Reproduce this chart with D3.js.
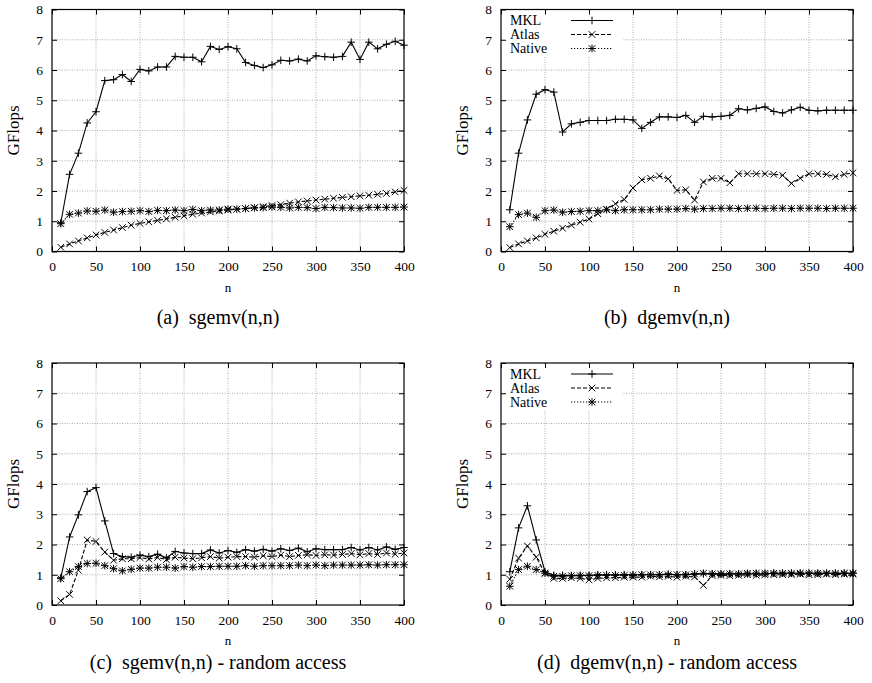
<!DOCTYPE html>
<html>
<head>
<meta charset="utf-8">
<script src="https://cdn.jsdelivr.net/npm/d3@7"></script>
<style>
  body { margin: 0; background: #fff; }
  svg text { font-family: "Liberation Serif", "Times New Roman", serif; fill: #000; }
</style>
</head>
<body>
<svg id="chart" width="872" height="683"></svg>
<script>
// problem sizes
var nValues = d3.range(10, 401, 10);
var xTicks = [0, 50, 100, 150, 200, 250, 300, 350, 400];
var yTicks = [0, 1, 2, 3, 4, 5, 6, 7, 8];
var seriesNames = ["MKL", "Atlas", "Native"];

// (a) sgemv(n,n)
var sgemvMKL = [0.95,2.55,3.25,4.25,4.62,5.65,5.68,5.85,5.62,6.02, 5.97,6.1,6.1,6.45,6.42,6.42,6.27,6.78,6.68,6.77, 6.7,6.25,6.15,6.08,6.17,6.32,6.3,6.36,6.3,6.47, 6.44,6.42,6.45,6.92,6.35,6.92,6.7,6.85,6.95,6.82];
var sgemvAtlas = [0.14,0.25,0.35,0.45,0.55,0.63,0.71,0.79,0.87,0.93, 0.98,1.03,1.08,1.13,1.18,1.23,1.27,1.31,1.34,1.37, 1.4,1.42,1.45,1.48,1.52,1.55,1.6,1.64,1.67,1.7, 1.73,1.76,1.79,1.81,1.84,1.86,1.89,1.92,1.97,2.02];
var sgemvNative = [0.92,1.23,1.27,1.34,1.33,1.37,1.3,1.32,1.33,1.35, 1.32,1.36,1.35,1.37,1.35,1.39,1.35,1.37,1.37,1.4, 1.4,1.42,1.44,1.45,1.47,1.46,1.44,1.46,1.45,1.42, 1.46,1.45,1.44,1.44,1.43,1.46,1.46,1.46,1.46,1.47];

// (b) dgemv(n,n)
var dgemvMKL = [1.38,3.25,4.35,5.2,5.35,5.27,3.95,4.22,4.27,4.33, 4.33,4.33,4.37,4.37,4.35,4.07,4.27,4.45,4.45,4.43, 4.5,4.27,4.47,4.45,4.47,4.5,4.72,4.68,4.73,4.78, 4.63,4.58,4.68,4.77,4.67,4.65,4.67,4.67,4.67,4.67];
var dgemvAtlas = [0.13,0.25,0.35,0.45,0.57,0.67,0.77,0.87,0.97,1.07, 1.25,1.4,1.58,1.72,2.1,2.37,2.42,2.5,2.4,2.02, 2.04,1.7,2.3,2.42,2.42,2.27,2.57,2.57,2.57,2.57, 2.55,2.52,2.25,2.42,2.57,2.57,2.55,2.47,2.55,2.6];
var dgemvNative = [0.82,1.22,1.27,1.13,1.35,1.37,1.3,1.32,1.33,1.35, 1.35,1.38,1.35,1.38,1.38,1.38,1.38,1.4,1.4,1.4, 1.42,1.4,1.42,1.42,1.43,1.43,1.42,1.43,1.43,1.42, 1.43,1.43,1.42,1.43,1.43,1.43,1.42,1.43,1.43,1.43];

// (c) sgemv(n,n) - random access
var sgemvRandMKL = [0.9,2.25,2.98,3.75,3.88,2.78,1.7,1.6,1.58,1.65, 1.6,1.68,1.56,1.77,1.72,1.7,1.7,1.82,1.72,1.8, 1.74,1.83,1.78,1.84,1.78,1.86,1.8,1.88,1.76,1.86, 1.83,1.83,1.83,1.9,1.82,1.9,1.82,1.92,1.84,1.9];
var sgemvRandAtlas = [0.14,0.35,1.15,2.15,2.1,1.75,1.48,1.53,1.53,1.57, 1.52,1.57,1.5,1.58,1.55,1.53,1.56,1.6,1.55,1.58, 1.6,1.6,1.58,1.63,1.6,1.65,1.6,1.64,1.66,1.64, 1.66,1.65,1.67,1.7,1.66,1.7,1.67,1.72,1.68,1.72];
var sgemvRandNative = [0.87,1.1,1.27,1.37,1.38,1.3,1.2,1.13,1.18,1.22, 1.22,1.25,1.25,1.22,1.27,1.25,1.27,1.27,1.28,1.28, 1.28,1.3,1.28,1.3,1.3,1.3,1.3,1.32,1.3,1.32, 1.3,1.32,1.32,1.32,1.32,1.33,1.32,1.33,1.33,1.33];

// (d) dgemv(n,n) - random access
var dgemvRandMKL = [1.1,2.55,3.28,2.15,1.1,0.98,0.98,0.97,0.98,0.98, 1.0,1.0,1.0,1.0,1.0,1.0,1.0,1.0,1.02,1.0, 1.0,1.03,1.03,1.03,1.02,1.03,1.03,1.03,1.03,1.03, 1.05,1.05,1.05,1.05,1.05,1.05,1.05,1.05,1.05,1.05];
var dgemvRandAtlas = [0.85,1.55,1.95,1.58,1.05,0.88,0.88,0.9,0.88,0.83, 0.88,0.9,0.9,0.92,0.92,0.92,0.95,0.93,0.95,0.92, 0.95,0.93,0.65,0.97,0.98,0.97,0.98,1.0,0.98,1.0, 1.0,1.0,1.0,1.02,1.0,1.0,1.02,1.0,1.02,1.02];
var dgemvRandNative = [0.62,1.17,1.28,1.17,1.05,0.95,0.95,0.97,0.97,0.97, 0.98,0.98,0.98,0.98,0.98,1.0,1.0,1.0,1.0,1.0, 1.0,1.02,1.05,1.03,1.03,1.03,1.03,1.05,1.05,1.05, 1.05,1.05,1.05,1.05,1.05,1.05,1.05,1.05,1.05,1.05];

var panels = [
  {caption: "(a)\u00a0 sgemv(n,n)", left: 52, top: 9.5, capDy: 72, series: [sgemvMKL, sgemvAtlas, sgemvNative], legend: false},
  {caption: "(b)\u00a0 dgemv(n,n)", left: 501, top: 9.5, capDy: 72, series: [dgemvMKL, dgemvAtlas, dgemvNative], legend: true},
  {caption: "(c)\u00a0 sgemv(n,n) - random access", left: 52, top: 363, capDy: 64, series: [sgemvRandMKL, sgemvRandAtlas, sgemvRandNative], legend: false},
  {caption: "(d)\u00a0 dgemv(n,n) - random access", left: 501, top: 363, capDy: 64, series: [dgemvRandMKL, dgemvRandAtlas, dgemvRandNative], legend: true}
];

var plotW = 352, plotH = 242;
var serif = "Liberation Serif";
var dashes = [null, "4,2", "1.2,1.8"];   // MKL solid, Atlas dashed, Native dotted

var svg = d3.select("#chart");

// gnuplot-ish point types: plus, cross, star
function drawMarker(g, type, x, y){
  var s = 3.8, c = 3.3;
  var d = "";
  if (type == 0 || type == 2) d += "M" + (x-s) + "," + y + "H" + (x+s) + "M" + x + "," + (y-s) + "V" + (y+s);
  if (type == 1 || type == 2) d += "M" + (x-c) + "," + (y-c) + "L" + (x+c) + "," + (y+c) + "M" + (x-c) + "," + (y+c) + "L" + (x+c) + "," + (y-c);
  g.append("path").attr("d", d).attr("stroke", "#000").attr("stroke-width", 1).attr("fill", "none");
}

panels.forEach(function(p){
  var g = svg.append("g").attr("transform", "translate(" + p.left + "," + p.top + ")");
  var x = d3.scaleLinear().domain([0, 400]).range([0, plotW]);
  var y = d3.scaleLinear().domain([0, 8]).range([plotH, 0]);

  // grid
  g.append("g").selectAll("line").data(xTicks.slice(1, -1)).join("line")
    .attr("x1", d => x(d)).attr("x2", d => x(d)).attr("y1", 0).attr("y2", plotH)
    .attr("stroke", "#999").attr("stroke-width", 0.8).attr("stroke-dasharray", "1,1.5");
  g.append("g").selectAll("line").data(yTicks.slice(1, -1)).join("line")
    .attr("x1", 0).attr("x2", plotW).attr("y1", d => y(d)).attr("y2", d => y(d))
    .attr("stroke", "#999").attr("stroke-width", 0.8).attr("stroke-dasharray", "1,1.5");

  // legend background hides the grid
  if (p.legend) {
    g.append("rect").attr("x", 1).attr("y", 1).attr("width", 120).attr("height", 46).attr("fill", "#fff");
  }

  // axes, ticks inward and mirrored
  var xAxis = g.append("g").attr("transform", "translate(0," + plotH + ")")
    .call(d3.axisBottom(x).tickValues(xTicks).tickSize(-5).tickPadding(10).tickFormat(d3.format("d")));
  var xTop = g.append("g").call(d3.axisTop(x).tickValues(xTicks).tickSize(-5).tickFormat(""));
  var yAxis = g.append("g").call(d3.axisLeft(y).tickValues(yTicks).tickSize(-5).tickPadding(9).tickFormat(d3.format("d")));
  var yRight = g.append("g").attr("transform", "translate(" + plotW + ",0)")
    .call(d3.axisRight(y).tickValues(yTicks).tickSize(-5).tickFormat(""));
  [xAxis, xTop, yAxis, yRight].forEach(function(a){
    a.attr("font-family", serif);
    a.select(".domain").remove();
    a.selectAll("line").attr("stroke", "#000");
    a.selectAll("text").attr("font-size", 13.5);
  });
  g.append("rect").attr("width", plotW).attr("height", plotH)
    .attr("fill", "none").attr("stroke", "#000").attr("stroke-width", 1.2);

  // series
  var line = d3.line().x((d, i) => x(nValues[i])).y(d => y(d));
  p.series.forEach(function(vals, k){
    g.append("path").datum(vals).attr("d", line)
      .attr("fill", "none").attr("stroke", "#000").attr("stroke-width", 1.1)
      .attr("stroke-dasharray", dashes[k]);
    var mg = g.append("g");
    vals.forEach(function(v, i){ drawMarker(mg, k, x(nValues[i]), y(v)); });
  });

  // legend
  if (p.legend) {
    seriesNames.forEach(function(name, k){
      var ly = 11 + k * 14;
      g.append("text").attr("x", 9).attr("y", ly + 4.5).attr("font-family", serif).attr("font-size", 14).text(name);
      g.append("line").attr("x1", 70).attr("x2", 112).attr("y1", ly).attr("y2", ly)
        .attr("stroke", "#000").attr("stroke-width", 1.1).attr("stroke-dasharray", dashes[k]);
      drawMarker(g, k, 91, ly);
    });
  }

  // labels
  g.append("text").attr("x", plotW / 2).attr("y", plotH + 40).attr("text-anchor", "middle")
    .attr("font-family", serif).attr("font-size", 13).text("n");
  g.append("text").attr("transform", "translate(-33," + (plotH / 2) + ") rotate(-90)")
    .attr("text-anchor", "middle").attr("font-family", serif).attr("font-size", 17).text("GFlops");
  g.append("text").attr("x", plotW / 2 - 10).attr("y", plotH + p.capDy).attr("text-anchor", "middle")
    .attr("font-family", serif).attr("font-size", 20).text(p.caption);
});
</script>
</body>
</html>
